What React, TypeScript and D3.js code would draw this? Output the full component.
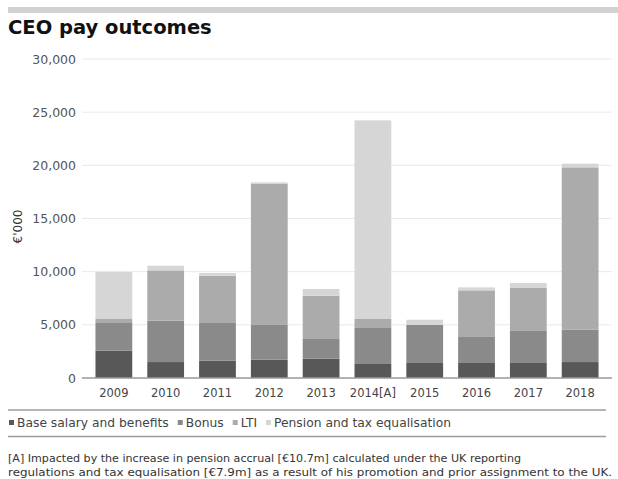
import React, { useEffect, useRef } from "react";
import * as d3 from "d3";

// €'000 per year, one array per pay component
const years = ["2009", "2010", "2011", "2012", "2013", "2014[A]", "2015", "2016", "2017", "2018"];
const baseSalary = [2570, 1500, 1630, 1720, 1820, 1320, 1410, 1410, 1410, 1500];
const bonus = [2670, 3890, 3540, 3270, 1850, 3380, 3580, 2450, 3070, 3040];
const lti = [310, 4730, 4450, 13260, 4070, 850, 0, 4380, 3990, 15270];
const pension = [4430, 440, 250, 150, 630, 18680, 490, 280, 470, 350];

const seriesNames = ["Base salary and benefits", "Bonus", "LTI", "Pension and tax equalisation"];
const seriesColors = ["#585858", "#8a8a8a", "#ababab", "#d6d6d6"];
const yTicks = [0, 5000, 10000, 15000, 20000, 25000, 30000];

const footnote = [
  "[A] Impacted by the increase in pension accrual [€10.7m] calculated under the UK reporting",
  "regulations and tax equalisation [€7.9m] as a result of his promotion and prior assignment to the UK.",
];

const FONT = "'DejaVu Sans', sans-serif";

export default function App() {
  const ref = useRef<SVGSVGElement | null>(null);

  useEffect(() => {
    const svg = d3.select(ref.current);
    svg.selectAll("*").remove();

    const plotLeft = 82;
    const plotRight = 612;
    const plotTop = 59;
    const plotBottom = 378;

    // header bar and title
    svg.append("rect").attr("x", 8).attr("y", 7).attr("width", 610).attr("height", 6).attr("fill", "#d2d2d2");
    svg
      .append("text")
      .attr("x", 8)
      .attr("y", 34)
      .attr("font-family", FONT)
      .attr("font-weight", "bold")
      .attr("font-size", 19.5)
      .attr("fill", "#111")
      .text("CEO pay outcomes");

    const x = d3
      .scaleBand<string>()
      .domain(years)
      .range([plotLeft, plotRight])
      .paddingInner(0.29)
      .paddingOuter(0.26);
    const y = d3.scaleLinear().domain([0, 30000]).range([plotBottom, plotTop]);

    // gridlines
    svg
      .append("g")
      .selectAll("line")
      .data(yTicks.filter((t) => t > 0))
      .join("line")
      .attr("x1", plotLeft)
      .attr("x2", plotRight)
      .attr("y1", (d) => y(d))
      .attr("y2", (d) => y(d))
      .attr("stroke", "#e9e9e9")
      .attr("stroke-width", 1);

    // y tick labels
    svg
      .append("g")
      .selectAll("text")
      .data(yTicks)
      .join("text")
      .attr("x", 76)
      .attr("y", (d) => y(d))
      .attr("dy", "0.36em")
      .attr("text-anchor", "end")
      .attr("font-family", FONT)
      .attr("font-size", 12.5)
      .attr("fill", "#555")
      .text((d) => d3.format(",")(d));

    svg
      .append("text")
      .attr("transform", `translate(22,${(plotTop + plotBottom) / 2 + 8}) rotate(-90)`)
      .attr("text-anchor", "middle")
      .attr("font-family", FONT)
      .attr("font-size", 12)
      .attr("fill", "#333")
      .text("€'000");

    // stacked bars
    const rows = years.map((yr, i) => ({
      year: yr,
      base: baseSalary[i],
      bonus: bonus[i],
      lti: lti[i],
      pension: pension[i],
    }));
    const keys = ["base", "bonus", "lti", "pension"];
    const stacked = d3.stack<any>().keys(keys)(rows);

    svg
      .append("g")
      .selectAll("g")
      .data(stacked)
      .join("g")
      .attr("fill", (_, i) => seriesColors[i])
      .selectAll("rect")
      .data((s) => s)
      .join("rect")
      .attr("x", (d: any) => x(d.data.year)!)
      .attr("width", x.bandwidth())
      .attr("y", (d) => y(d[1]))
      .attr("height", (d) => y(d[0]) - y(d[1]));

    // baseline
    svg
      .append("line")
      .attr("x1", plotLeft)
      .attr("x2", plotRight)
      .attr("y1", plotBottom)
      .attr("y2", plotBottom)
      .attr("stroke", "#9a9a9a")
      .attr("stroke-width", 1.5);

    // x labels
    svg
      .append("g")
      .selectAll("text")
      .data(years)
      .join("text")
      .attr("x", (d) => x(d)! + x.bandwidth() / 2)
      .attr("y", 397)
      .attr("text-anchor", "middle")
      .attr("font-family", FONT)
      .attr("font-size", 11.5)
      .attr("fill", "#444")
      .text((d) => d);

    // legend
    const lineColor = "#9d9d9d";
    svg.append("line").attr("x1", 8).attr("x2", 606).attr("y1", 410).attr("y2", 410).attr("stroke", lineColor).attr("stroke-width", 1.5);
    svg.append("line").attr("x1", 8).attr("x2", 606).attr("y1", 436.5).attr("y2", 436.5).attr("stroke", lineColor).attr("stroke-width", 1.5);

    const legend = svg.append("g");
    let lx = 9;
    seriesNames.forEach((name, i) => {
      legend.append("rect").attr("x", lx).attr("y", 420).attr("width", 5).attr("height", 5).attr("fill", seriesColors[i]);
      const t = legend
        .append("text")
        .attr("x", lx + 8)
        .attr("y", 427)
        .attr("font-family", FONT)
        .attr("font-size", 12.3)
        .attr("fill", "#444")
        .text(name);
      const w = (t.node() as SVGTextElement).getComputedTextLength();
      lx += 8 + w + 9;
    });

    // footnote
    const footWidths = [513, 604];
    svg
      .append("g")
      .selectAll("text")
      .data(footnote)
      .join("text")
      .attr("x", 8)
      .attr("y", (_, i) => 462 + i * 13.5)
      .attr("font-family", FONT)
      .attr("font-size", 10.5)
      .attr("fill", "#333")
      .attr("textLength", (_, i) => footWidths[i])
      .attr("lengthAdjust", "spacingAndGlyphs")
      .text((d) => d);
  }, []);

  return (
    <svg
      ref={ref}
      width={618}
      height={479}
      style={{ position: "absolute", left: 0, top: 0, background: "#fff" }}
    />
  );
}
